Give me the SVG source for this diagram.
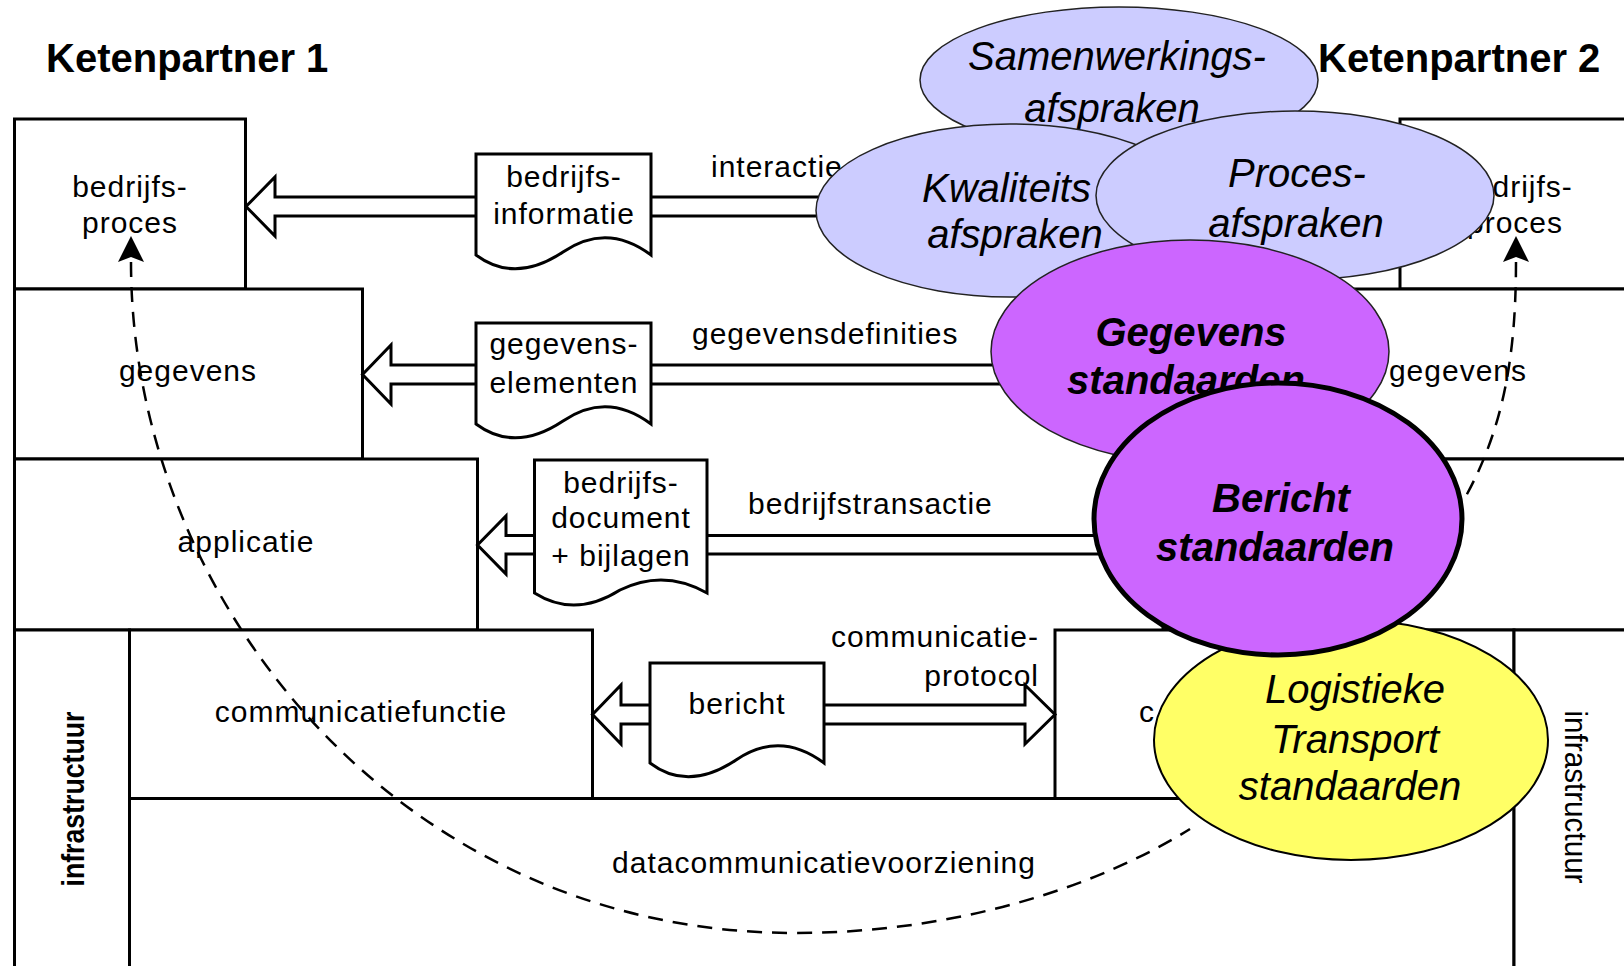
<svg xmlns="http://www.w3.org/2000/svg" width="1624" height="966" viewBox="0 0 1624 966">
<style>
.box{fill:#fff;stroke:#000;stroke-width:3}
.lbl{font-family:"Liberation Sans",Arial,sans-serif;font-size:30px;letter-spacing:1px;fill:#000}
.mid{text-anchor:middle}
.end{text-anchor:end}
.doc{fill:#fff;stroke:#000;stroke-width:3;stroke-linejoin:miter}
.arrow{fill:#fff;stroke:#000;stroke-width:3;stroke-linejoin:miter}
.shaft{fill:none;stroke:#000;stroke-width:3}
.dash{fill:none;stroke:#000;stroke-width:2.5;stroke-dasharray:15 10}
.head{fill:#000;stroke:none}
.lav{fill:#CCCCFF;stroke:#222;stroke-width:1.5}
.pur{fill:#CC66FF;stroke:#222;stroke-width:1.5}
.big{font-family:"Liberation Sans",Arial,sans-serif;font-size:40px;font-style:italic;fill:#000;text-anchor:middle}
.bi{font-weight:bold}
.title{font-family:"Liberation Sans",Arial,sans-serif;font-size:40px;font-weight:bold;fill:#000}
.rot{font-family:"Liberation Sans",Arial,sans-serif;font-size:31px;text-anchor:middle;fill:#000}
</style>
<rect x="0" y="0" width="1624" height="966" fill="#fff"/>

<g id="kp1-bedrijfsproces"><rect class="box" x="14.5" y="119" width="231" height="170"/>
<text class="lbl mid" x="130" y="197">bedrijfs-</text><text class="lbl mid" x="130" y="233">proces</text></g>
<g id="kp1-gegevens"><rect class="box" x="14.5" y="289" width="348" height="170"/>
<text class="lbl mid" x="188" y="381">gegevens</text></g>
<g id="kp1-applicatie"><rect class="box" x="14.5" y="459" width="463" height="171"/>
<text class="lbl mid" x="246" y="552">applicatie</text></g>
<g id="kp1-infrastructuur"><rect class="box" x="14.5" y="630" width="115" height="360"/>
<text class="rot" font-weight="bold" textLength="175" lengthAdjust="spacingAndGlyphs" transform="translate(83.5,799) rotate(-90)">infrastructuur</text></g>
<g id="kp1-communicatiefunctie"><rect class="box" x="129.5" y="630" width="463" height="168.5"/>
<text class="lbl mid" x="361" y="722">communicatiefunctie</text></g>
<g id="datacommunicatievoorziening"><rect class="box" x="129.5" y="798.5" width="1384.5" height="200"/>
<text class="lbl mid" x="824" y="873">datacommunicatievoorziening</text></g>

<g id="kp2-bedrijfsproces"><rect class="box" x="1400" y="119" width="260" height="170"/>
<text class="lbl mid" x="1515" y="197">bedrijfs-</text><text class="lbl mid" x="1515" y="233">proces</text></g>
<g id="kp2-gegevens"><rect class="box" x="1275" y="289" width="385" height="170"/>
<text class="lbl mid" x="1458" y="381">gegevens</text></g>
<g id="kp2-applicatie"><rect class="box" x="1163" y="459" width="497" height="171"/></g>
<g id="kp2-communicatiefunctie"><rect class="box" x="1055" y="630" width="459" height="168.5"/>
<text class="lbl" x="1139" y="722">c</text></g>
<g id="kp2-infrastructuur"><rect class="box" x="1514" y="630" width="146" height="360"/>
<text class="rot" textLength="173" lengthAdjust="spacingAndGlyphs" transform="translate(1565,797) rotate(90)">infrastructuur</text></g>

<g id="connectors">
<path class="arrow" d="M476,197 H275 V177 L246,206.5 L275,236 V216 H476"/>
<path class="shaft" d="M651,197 H860 M651,216 H860"/>
<text class="lbl" x="711" y="177">interactie</text>
<path class="arrow" d="M476,365 H391 V345 L362.5,374.5 L391,404 V384 H476"/>
<path class="shaft" d="M651,365 H1010 M651,384 H1010"/>
<text class="lbl" x="692" y="344">gegevensdefinities</text>
<path class="arrow" d="M534.5,535.5 H506 V516 L477.5,545 L506,574 V554 H534.5"/>
<path class="shaft" d="M707,535.5 H1110 M707,554 H1110"/>
<text class="lbl" x="748" y="514">bedrijfstransactie</text>
<path class="arrow" d="M650,705 H621 V685 L592.5,714.5 L621,744 V724 H650"/>
<path class="arrow" d="M824,705 H1025 V685 L1055,714.5 L1025,744 V724 H824"/>
<text class="lbl end" x="1039" y="647">communicatie-</text>
<text class="lbl end" x="1039" y="686">protocol</text>
<path class="dash" d="M131,262 C131,600 400,933 795,933 C960,933 1100,885 1190,829"/>
<path class="head" d="M131,236 L144,262 L131,257 L118,262 Z"/>
<path class="dash" d="M1516,262 C1516,360 1502,430 1466,496"/>
<path class="head" d="M1516,236 L1529,262 L1516,257 L1503,262 Z"/>
</g>

<g id="doc-bedrijfsinformatie"><path class="doc" d="M476,154 H651 V255 Q607,222 563,252 Q515,284 476,255 Z"/>
<text class="lbl mid" x="564" y="187">bedrijfs-</text><text class="lbl mid" x="564" y="224">informatie</text></g>
<g id="doc-gegevenselementen"><path class="doc" d="M476,323 H651 V424 Q607,391 563,421 Q515,453 476,424 Z"/>
<text class="lbl mid" x="564" y="354">gegevens-</text><text class="lbl mid" x="564" y="393">elementen</text></g>
<g id="doc-bedrijfsdocument"><path class="doc" d="M534.5,460 H707 V593 Q664,568.5 620,590 Q575,618.5 534.5,593 Z"/>
<text class="lbl mid" x="621" y="493">bedrijfs-</text><text class="lbl mid" x="621" y="528">document</text><text class="lbl mid" x="621" y="566">+ bijlagen</text></g>
<g id="doc-bericht"><path class="doc" d="M650,663 H824 V763 Q780,730 736,760 Q688,792 650,763 Z"/>
<text class="lbl mid" x="737" y="714">bericht</text></g>

<g id="samenwerkingsafspraken"><ellipse class="lav" cx="1119" cy="80" rx="199" ry="73"/>
<text class="big" x="1117" y="70">Samenwerkings-</text><text class="big" x="1112" y="122">afspraken</text></g>
<g id="kwaliteitsafspraken"><ellipse class="lav" cx="1010" cy="210.5" rx="194" ry="86.5"/>
<text class="big" x="922" y="202" style="text-anchor:start">Kwaliteits</text><text class="big" x="1015" y="248">afspraken</text></g>
<g id="procesafspraken"><ellipse class="lav" cx="1295" cy="195.5" rx="199" ry="84.5"/>
<text class="big" x="1297" y="187">Proces-</text><text class="big" x="1296" y="237">afspraken</text></g>
<g id="gegevensstandaarden"><ellipse class="pur" cx="1190" cy="351.5" rx="199" ry="111.5"/>
<text class="big bi" x="1191" y="346">Gegevens</text><text class="big bi" x="1186" y="394">standaarden</text></g>
<g id="logistieke-transport-standaarden"><ellipse cx="1351" cy="740" rx="197" ry="120" fill="#FFFF66" stroke="#000" stroke-width="2"/>
<text class="big" x="1355" y="703">Logistieke</text><text class="big" x="1355" y="753">Transport</text><text class="big" x="1350" y="800">standaarden</text></g>
<g id="berichtstandaarden"><ellipse cx="1278" cy="519" rx="184" ry="136" fill="#CC66FF" stroke="#000" stroke-width="5"/>
<text class="big bi" x="1281" y="512">Bericht</text><text class="big bi" x="1275" y="561">standaarden</text></g>

<g id="titles">
<text class="title" x="46" y="72">Ketenpartner 1</text>
<text class="title" x="1318" y="72">Ketenpartner 2</text>
</g>
</svg>
